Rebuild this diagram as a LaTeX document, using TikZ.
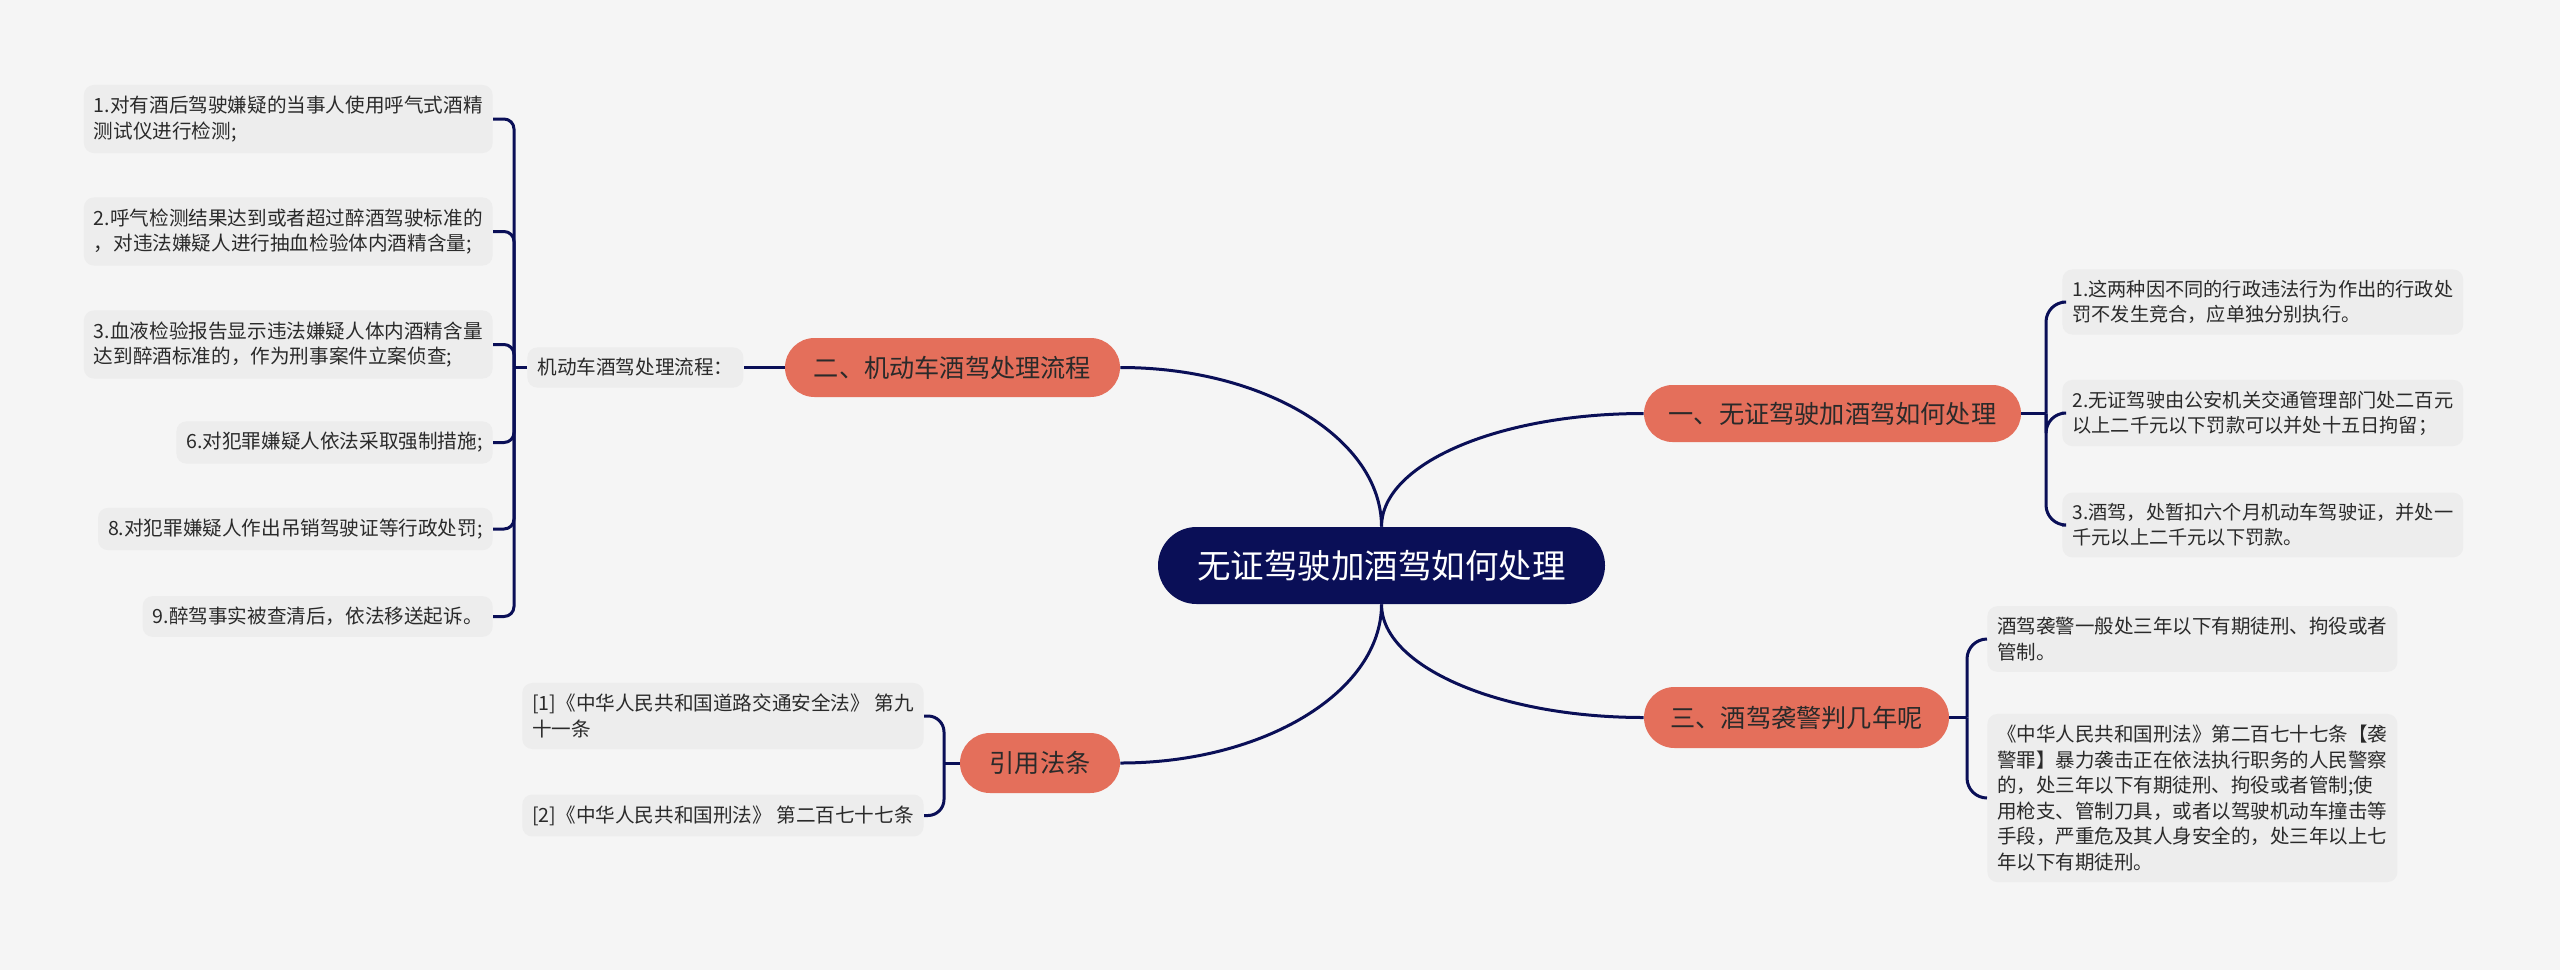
\documentclass[tikz,border=0pt]{standalone}
\usepackage{fontspec}
\setmainfont{Noto Sans CJK SC}
\usetikzlibrary{shapes.misc}
\definecolor{bg}{HTML}{F5F5F5}
\definecolor{leafbg}{HTML}{EDEDED}
\definecolor{coral}{HTML}{E46F5B}
\definecolor{navy}{HTML}{0A0F57}
\definecolor{txt}{HTML}{2A2A2A}
\begin{document}
\begin{tikzpicture}[x=0.5pt,y=-0.5pt,
  conn/.style={draw=navy, line width=1.5pt},
  leafbox/.style={fill=leafbg, rounded corners=5pt, inner xsep=5pt, inner ysep=5.5pt, align=left, text=txt},
  lfont/.style={font=\fontsize{9.8pt}{12.9pt}\selectfont},
  rfont/.style={font=\fontsize{9.6pt}{12.4pt}\selectfont},
  tfont/.style={font=\fontsize{9.75pt}{12.8pt}\selectfont},
  topic/.style={rounded rectangle, fill=coral, text=txt, inner sep=0pt, font=\fontsize{12.6pt}{15pt}\selectfont},
  rootnode/.style={rounded rectangle, fill=navy, text=white, inner sep=0pt, font=\fontsize{16.75pt}{20pt}\selectfont, minimum width=223.5pt, minimum height=38.5pt}
]
\fill[bg] (0,0) rectangle (2560,970);
\useasboundingbox (0,0) rectangle (2560,970);

% root
\node[rootnode] (root) at (1381.5,565.5) {无证驾驶加酒驾如何处理};

% main topics
\node[topic, minimum width=167.5pt, minimum height=29.5pt] (n2) at (952.5,367.5) {二、机动车酒驾处理流程};
\node[topic, minimum width=188.5pt, minimum height=28.5pt] (n1) at (1832.5,413.5) {一、无证驾驶加酒驾如何处理};
\node[topic, minimum width=152.5pt, minimum height=30.5pt] (n3) at (1796.5,717.5) {三、酒驾袭警判几年呢};
\node[topic, minimum width=80pt, minimum height=30pt] (n4) at (1040,763) {引用法条};

% left leaves
\node[leafbox, lfont, anchor=east] (l1) at (493,119) {1.对有酒后驾驶嫌疑的当事人使用呼气式酒精\\测试仪进行检测;};
\node[leafbox, lfont, anchor=east] (l2) at (493,231.5) {2.呼气检测结果达到或者超过醉酒驾驶标准的\\，对违法嫌疑人进行抽血检验体内酒精含量;};
\node[leafbox, lfont, anchor=east] (l3) at (493,344.5) {3.血液检验报告显示违法嫌疑人体内酒精含量\\达到醉酒标准的，作为刑事案件立案侦查;};
\node[leafbox, lfont, anchor=east] (l6) at (493,442.5) {6.对犯罪嫌疑人依法采取强制措施;};
\node[leafbox, lfont, anchor=east] (l8) at (493,529) {8.对犯罪嫌疑人作出吊销驾驶证等行政处罚;};
\node[leafbox, lfont, anchor=east] (l9) at (493,616.5) {9.醉驾事实被查清后，依法移送起诉。};
\node[leafbox, lfont, anchor=west] (lab) at (527,367.5) {机动车酒驾处理流程：};

% references
\node[leafbox, lfont, anchor=east] (f1) at (924,716) {[1]《中华人民共和国道路交通安全法》 第九\\十一条};
\node[leafbox, lfont, anchor=east] (f2) at (924,815.5) {[2]《中华人民共和国刑法》 第二百七十七条};

% right leaves
\node[leafbox, rfont, anchor=west] (r1) at (2062,302) {1.这两种因不同的行政违法行为作出的行政处\\罚不发生竞合，应单独分别执行。};
\node[leafbox, rfont, anchor=west] (r2) at (2062,413) {2.无证驾驶由公安机关交通管理部门处二百元\\以上二千元以下罚款可以并处十五日拘留；};
\node[leafbox, rfont, anchor=west] (r3) at (2062,525) {3.酒驾，处暂扣六个月机动车驾驶证，并处一\\千元以上二千元以下罚款。};

\node[leafbox, tfont, anchor=west] (a1) at (1987,639) {酒驾袭警一般处三年以下有期徒刑、拘役或者\\管制。};
\node[leafbox, tfont, anchor=west] (a2) at (1987,798) {《中华人民共和国刑法》第二百七十七条【袭\\警罪】暴力袭击正在依法执行职务的人民警察\\的，处三年以下有期徒刑、拘役或者管制;使\\用枪支、管制刀具，或者以驾驶机动车撞击等\\手段，严重危及其人身安全的，处三年以上七\\年以下有期徒刑。};

% junctions
\coordinate (jl) at (514,367.5);
\coordinate (jr) at (944,763);
\coordinate (j1) at (2046,413.5);
\coordinate (j3) at (1967,717.5);

% root curves
\draw[conn] (root.north) .. controls +(0,-88) and +(144,0) .. (n2.east);
\draw[conn] (root.north) .. controls +(0,-63) and +(-145,0) .. (n1.west);
\draw[conn] (root.south) .. controls +(0,87) and +(144,0) .. (n4.east);
\draw[conn] (root.south) .. controls +(0,62) and +(-145,0) .. (n3.west);

% left bracket
\draw[conn] (n2.west) -- (lab.east);
\draw[conn] (lab.west) -- (jl);
\foreach \n in {l1,l2,l3,l6,l8,l9}
  \draw[conn, rounded corners=5pt] (jl) |- (\n.east);

% references bracket
\draw[conn] (n4.west) -- (jr);
\foreach \n in {f1,f2}
  \draw[conn, rounded corners=8pt] (jr) |- (\n.east);

% right brackets
\draw[conn] (n1.east) -- (j1);
\foreach \n in {r1,r2,r3}
  \draw[conn, rounded corners=10pt] (j1) |- (\n.west);
\draw[conn] (n3.east) -- (j3);
\foreach \n in {a1,a2}
  \draw[conn, rounded corners=10pt] (j3) |- (\n.west);
\end{tikzpicture}
\end{document}
